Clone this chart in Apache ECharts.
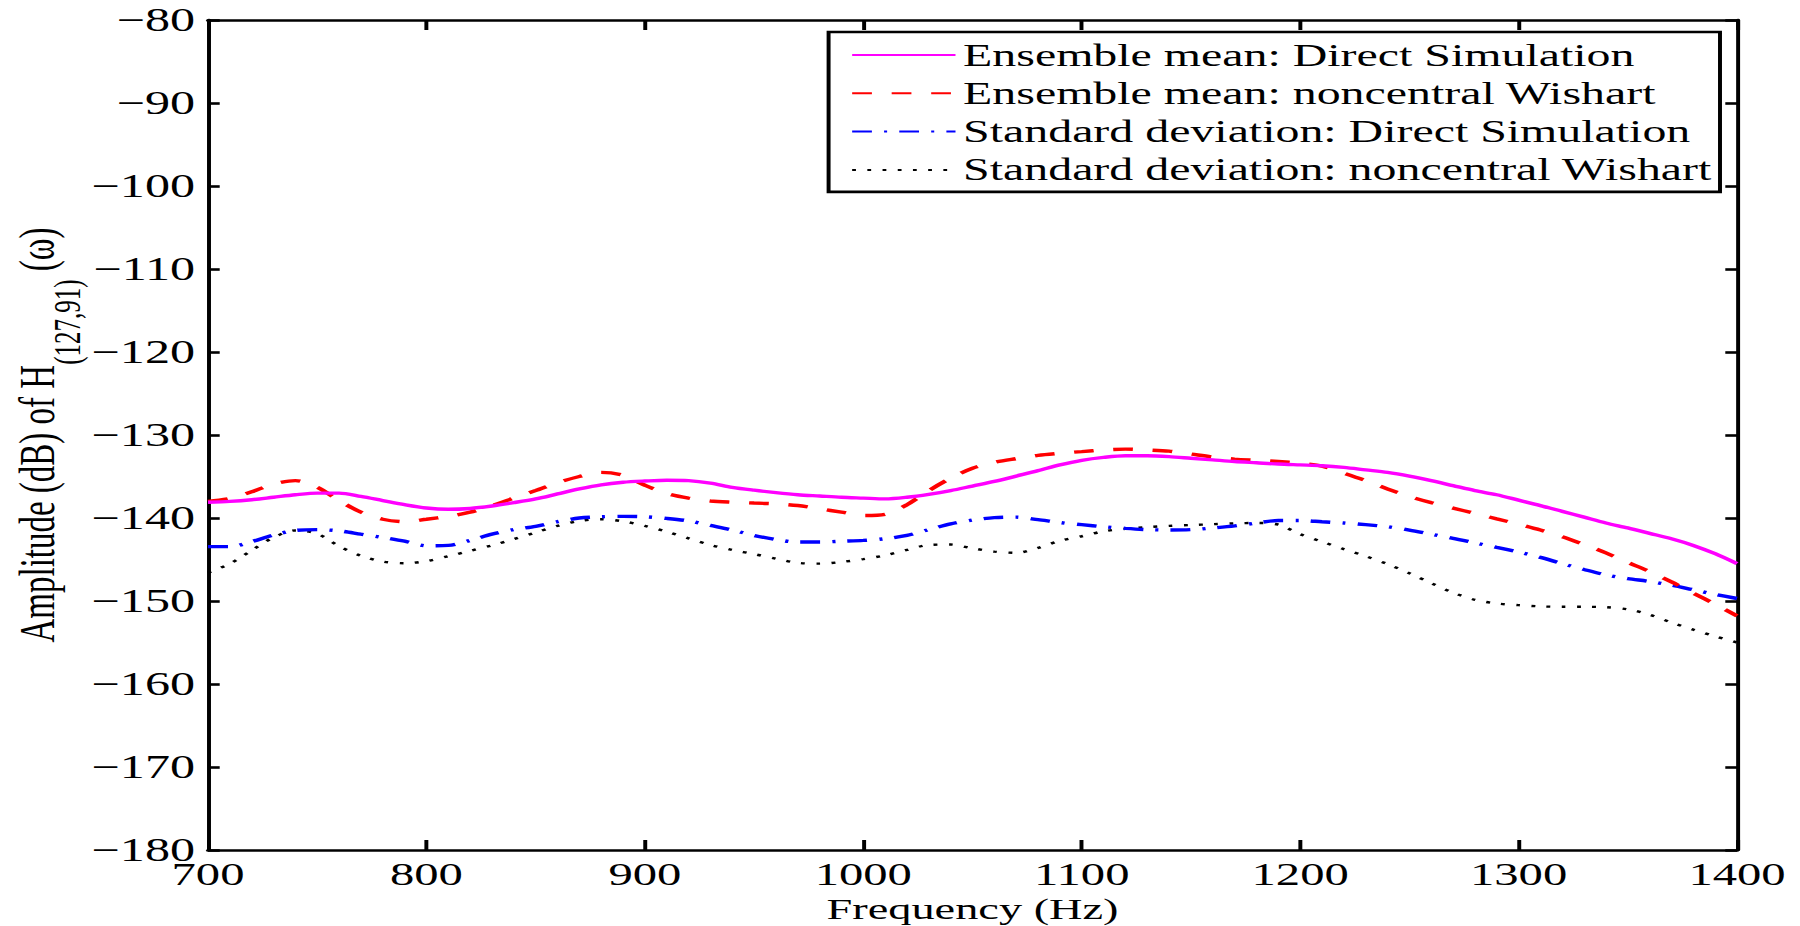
<!DOCTYPE html>
<html>
<head>
<meta charset="utf-8">
<script src="https://cdn.jsdelivr.net/npm/echarts@6/dist/echarts.min.js"></script>
<style>
html,body{margin:0;padding:0;background:#fff;overflow:hidden;}
#wrap{width:1800px;height:926px;overflow:hidden;position:relative;background:#fff;}
#chart{position:absolute;left:0;top:0;height:926px;transform-origin:0 0;}
</style>
</head>
<body>
<div id="wrap"><div id="chart"></div></div>
<script>
// ---- data ----
const freq = [700,710,720,730,740,750,760,770,780,790,800,810,820,830,840,850,860,870,880,890,
  900,910,920,930,940,950,960,970,980,990,1000,1010,1020,1030,1040,1050,1060,1070,1080,1090,
  1100,1110,1120,1130,1140,1150,1160,1170,1180,1190,1200,1210,1220,1230,1240,1250,1260,1270,1280,1290,
  1300,1310,1320,1330,1340,1350,1360,1370,1380,1390,1400];

const meanDirect = [-138.1,-138.0,-137.8,-137.5,-137.2,-137.0,-137.0,-137.4,-137.9,-138.4,
  -138.8,-138.95,-138.85,-138.55,-138.15,-137.7,-137.1,-136.5,-136.0,-135.7,
  -135.55,-135.45,-135.5,-135.8,-136.3,-136.65,-136.95,-137.2,-137.35,-137.5,
  -137.6,-137.7,-137.5,-137.15,-136.7,-136.15,-135.6,-134.95,-134.3,-133.6,
  -133.05,-132.7,-132.5,-132.5,-132.6,-132.8,-133.0,-133.2,-133.35,-133.5,
  -133.6,-133.7,-133.9,-134.2,-134.5,-134.95,-135.5,-136.1,-136.7,-137.2,
  -137.85,-138.5,-139.2,-139.9,-140.6,-141.2,-141.85,-142.5,-143.3,-144.3,-145.5];

const meanWishart = [-138.0,-137.65,-136.85,-135.9,-135.5,-136.3,-137.9,-139.3,-140.15,-140.45,
  -140.15,-139.8,-139.3,-138.5,-137.6,-136.7,-135.75,-135.0,-134.5,-134.85,
  -136.05,-137.05,-137.6,-137.95,-138.1,-138.2,-138.3,-138.5,-138.9,-139.3,
  -139.7,-139.55,-138.4,-136.7,-135.2,-134.0,-133.3,-132.85,-132.45,-132.2,
  -132.0,-131.8,-131.7,-131.8,-131.95,-132.3,-132.65,-132.9,-133.05,-133.2,
  -133.4,-133.75,-134.6,-135.5,-136.5,-137.4,-138.15,-138.8,-139.45,-140.1,
  -140.75,-141.45,-142.25,-143.2,-144.2,-145.35,-146.45,-147.7,-149.05,-150.4,-151.8];

const stdDirect = [-143.45,-143.45,-142.85,-142.05,-141.5,-141.4,-141.55,-141.95,-142.35,-142.8,
  -143.35,-143.3,-142.7,-141.95,-141.4,-141.0,-140.45,-140.0,-139.85,-139.8,
  -139.85,-140.05,-140.35,-140.9,-141.45,-142.1,-142.6,-142.9,-142.9,-142.8,
  -142.7,-142.5,-142.1,-141.4,-140.7,-140.25,-139.95,-139.9,-140.2,-140.55,
  -140.8,-141.05,-141.25,-141.4,-141.45,-141.4,-141.2,-140.95,-140.6,-140.3,
  -140.3,-140.45,-140.6,-140.8,-141.05,-141.45,-141.95,-142.45,-143.0,-143.55,
  -144.1,-144.75,-145.5,-146.2,-146.85,-147.3,-147.65,-148.1,-148.65,-149.2,-149.7];

const stdWishart = [-146.6,-145.5,-143.9,-142.35,-141.5,-141.9,-143.4,-144.55,-145.25,-145.45,
  -145.2,-144.6,-143.95,-143.3,-142.55,-141.75,-140.95,-140.35,-140.15,-140.4,
  -140.95,-141.65,-142.45,-143.25,-143.85,-144.35,-144.9,-145.4,-145.5,-145.3,
  -144.95,-144.5,-143.85,-143.25,-143.2,-143.65,-144.05,-144.2,-143.6,-142.75,
  -142.2,-141.6,-141.3,-141.1,-140.95,-140.85,-140.75,-140.65,-140.6,-140.8,
  -141.95,-142.85,-143.75,-144.6,-145.55,-146.65,-147.85,-149.0,-149.85,-150.3,
  -150.5,-150.65,-150.7,-150.7,-150.75,-151.0,-151.65,-152.6,-153.45,-154.25,-155.0];

const seriesNames = [
  'Ensemble mean: Direct Simulation',
  'Ensemble mean: noncentral Wishart',
  'Standard deviation: Direct Simulation',
  'Standard deviation: noncentral Wishart'
];
const xTicks = { min: 700, max: 1400, step: 100 };
const yTicks = { min: -180, max: -80, step: 10 };

// ---- layout ----
const STRETCH = 1.52;               // the reference figure is stretched horizontally
const W = 1800 / STRETCH;
const el = document.getElementById('chart');
el.style.width = W + 'px';
el.style.transform = 'scaleX(' + STRETCH + ')';

const FONT = "'Liberation Serif', 'Times New Roman', serif";
const chart = echarts.init(el, null, { renderer: 'svg', width: W, height: 926 });

function pairs(vals) { return freq.map((f, i) => [f, vals[i]]); }
const plainNum = v => String(v);
const minusNum = v => String(v).replace('-', '\u2212');

const axisLineStyle = { color: '#000', width: 2.6 };
const xBase = {
  type: 'value', min: xTicks.min, max: xTicks.max, interval: xTicks.step,
  axisLine: { show: true, onZero: false, lineStyle: axisLineStyle },
  axisTick: { show: true, inside: true, length: 10, lineStyle: { color: '#000', width: 2.6 } },
  splitLine: { show: false }
};
const yBase = {
  type: 'value', min: yTicks.min, max: yTicks.max, interval: yTicks.step,
  axisLine: { show: true, onZero: false, lineStyle: axisLineStyle },
  axisTick: { show: true, inside: true, length: 7.7, lineStyle: { color: '#000', width: 2.6 } },
  splitLine: { show: false }
};

const styles = [
  { color: '#ff00ff', type: 'solid', width: 3.4 },
  { color: '#ff0000', type: [13, 13], width: 3.4 },
  { color: '#0000ff', type: [13, 8, 2, 8], width: 3.4 },
  { color: '#000000', type: [2.5, 7.5], width: 2.4 }
];
const values = [meanDirect, meanWishart, stdDirect, stdWishart];

chart.setOption({
  backgroundColor: '#fff',
  animation: false,
  grid: {
    left: 208 / STRETCH, right: W - 1737 / STRETCH, top: 20, bottom: 76,
    containLabel: false, outerBoundsMode: 'none'
  },
  legend: {
    show: true,
    orient: 'vertical',
    right: W - 1720 / STRETCH,
    top: 32,
    itemWidth: 68,
    itemHeight: 32,
    itemGap: 6.3,
    padding: [7, 5, 6, 14.5],
    borderColor: '#000',
    borderWidth: 2.6,
    backgroundColor: '#fff',
    selectedMode: false,
    itemStyle: { opacity: 0 },
    textStyle: { fontFamily: FONT, fontSize: 31.5, color: '#000', lineHeight: 32 },
    data: seriesNames
  },
  xAxis: [
    Object.assign({}, xBase, {
      position: 'bottom',
      axisLabel: { show: true, fontFamily: FONT, fontSize: 32, lineHeight: 22, color: '#000', margin: 13, formatter: plainNum },
      name: 'Frequency (Hz)', nameLocation: 'middle', nameGap: 48, nameMoveOverlap: false,
      nameTextStyle: { fontFamily: FONT, fontSize: 30.5, lineHeight: 22, color: '#000' }
    }),
    Object.assign({}, xBase, { position: 'top', axisLabel: { show: false } })
  ],
  yAxis: [
    Object.assign({}, yBase, {
      position: 'left',
      axisLabel: { show: true, fontFamily: FONT, fontSize: 33, lineHeight: 22, color: '#000', margin: 8.5, formatter: minusNum },
      name: '{m|Amplitude (dB) of H}{s|(127,91)}{m| (\u03C9)}',
      nameLocation: 'middle', nameRotate: 90, nameGap: 80, nameMoveOverlap: false,
      nameTextStyle: {
        fontFamily: FONT, fontSize: 33, color: '#000',
        rich: {
          m: { fontFamily: FONT, fontSize: 33, color: '#000', lineHeight: 34, verticalAlign: 'top' },
          s: { fontFamily: FONT, fontSize: 25, color: '#000', lineHeight: 49, verticalAlign: 'bottom' }
        }
      }
    }),
    Object.assign({}, yBase, { position: 'right', axisLabel: { show: false } })
  ],
  series: seriesNames.map((name, i) => ({
    name: name,
    type: 'line',
    xAxisIndex: 0,
    yAxisIndex: 0,
    data: pairs(values[i]),
    smooth: 0.3,
    symbol: 'none',
    showSymbol: false,
    lineStyle: styles[i],
    itemStyle: { color: styles[i].color },
    z: 4 - i
  }))
});
</script>
</body>
</html>
